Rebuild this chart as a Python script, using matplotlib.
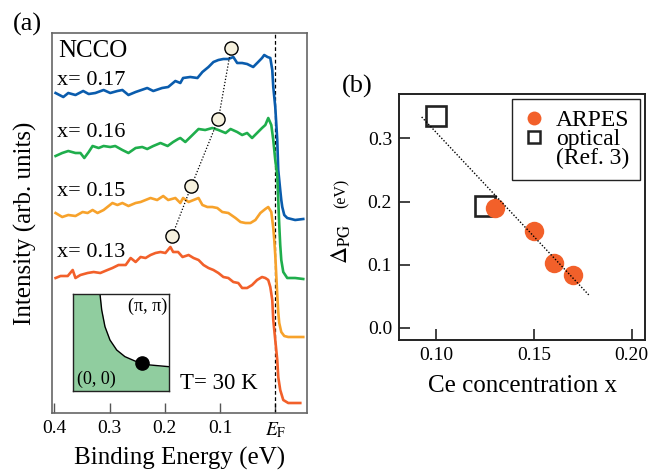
import matplotlib
matplotlib.use('Agg')
import matplotlib.pyplot as plt
from matplotlib.lines import Line2D

plt.rcParams['font.family'] = ['Liberation Serif', 'DejaVu Serif']
plt.rcParams['mathtext.fontset'] = 'stix'

# ---------------- data: panel (a) spectra ----------------
E_blue = [0.398, 0.384, 0.375, 0.362, 0.348, 0.338, 0.326, 0.311, 0.299, 0.286, 0.277, 0.266, 0.253,
          0.232, 0.221, 0.205, 0.194, 0.181, 0.172, 0.167, 0.154, 0.141, 0.132, 0.121, 0.112, 0.103,
          0.094, 0.085, 0.076, 0.069, 0.060, 0.051, 0.040, 0.031, 0.024, 0.020, 0.014, 0.009, 0.0054,
          0.0036, 0.0, -0.0036, -0.0054, -0.009, -0.0109, -0.0127, -0.0163, -0.0217, -0.036, -0.0507]
I_blue = [320, 316, 320, 318, 322, 319, 320, 323, 320, 322, 323, 318, 321, 325, 322, 325, 326, 332, 330,
          335, 336, 335, 341, 346, 351, 353, 354, 354, 356, 350, 350, 349, 346, 351, 355, 358, 356, 355,
          343, 326, 306, 273, 243, 223, 213, 206, 198, 195, 193, 194]

E_green = [0.398, 0.386, 0.375, 0.362, 0.353, 0.346, 0.338, 0.331, 0.320, 0.311, 0.299, 0.290, 0.277,
           0.266, 0.253, 0.241, 0.232, 0.221, 0.208, 0.195, 0.185, 0.176, 0.172, 0.163, 0.150, 0.139,
           0.127, 0.114, 0.103, 0.090, 0.081, 0.069, 0.060, 0.051, 0.042, 0.033, 0.024, 0.018, 0.0127,
           0.0072, 0.0036, 0.0, -0.0036, -0.0054, -0.0072, -0.009, -0.0109, -0.0145, -0.0217, -0.036, -0.0507]
I_green = [257, 260, 262, 260, 260, 255, 261, 267, 265, 267, 266, 267, 263, 260, 265, 266, 264, 267, 270,
           267, 271, 274, 275, 271, 278, 284, 283, 285, 283, 280, 284, 281, 278, 280, 275, 280, 285, 288,
           295, 288, 273, 253, 238, 213, 188, 168, 153, 141, 135, 135, 134]

E_orange = [0.398, 0.386, 0.375, 0.362, 0.349, 0.340, 0.331, 0.322, 0.311, 0.295, 0.286, 0.277, 0.266,
            0.253, 0.244, 0.235, 0.226, 0.214, 0.203, 0.194, 0.181, 0.172, 0.167, 0.157, 0.148, 0.139,
            0.132, 0.123, 0.114, 0.105, 0.096, 0.085, 0.072, 0.063, 0.054, 0.045, 0.036, 0.027, 0.018,
            0.0127, 0.0072, 0.0036, 0.0018, 0.0, -0.0018, -0.0036, -0.0054, -0.0072, -0.0109, -0.0163,
            -0.0235, -0.0507]
I_orange = [200, 196, 198, 197, 201, 200, 203, 200, 203, 210, 208, 210, 207, 210, 211, 213, 215, 213, 217,
            213, 215, 210, 215, 211, 213, 215, 208, 206, 206, 205, 201, 200, 195, 191, 190, 190, 193, 200,
            204, 206, 201, 185, 173, 158, 138, 118, 101, 90, 81, 77, 76, 76]

E_red = [0.398, 0.389, 0.376, 0.367, 0.362, 0.353, 0.340, 0.329, 0.317, 0.304, 0.295, 0.284, 0.271,
         0.262, 0.253, 0.244, 0.235, 0.226, 0.217, 0.208, 0.199, 0.190, 0.185, 0.176, 0.168, 0.157,
         0.148, 0.139, 0.130, 0.121, 0.112, 0.103, 0.094, 0.085, 0.076, 0.067, 0.060, 0.051, 0.042,
         0.033, 0.024, 0.018, 0.0127, 0.009, 0.0054, 0.0036, 0.0, -0.0036, -0.0054, -0.009, -0.0145,
         -0.0235, -0.0453]
I_red = [135, 137, 137, 143, 135, 138, 140, 141, 140, 143, 145, 148, 148, 155, 151, 156, 155, 158, 160,
         161, 160, 166, 161, 161, 156, 158, 155, 153, 148, 145, 143, 140, 136, 135, 131, 130, 125, 125,
         128, 133, 136, 135, 133, 126, 113, 93, 73, 53, 36, 23, 13, 10, 10]

spectra_labels = ['x= 0.17', 'x= 0.16', 'x= 0.15', 'x= 0.13']
spectra_colors = ['#0a5cad', '#1fae4c', '#f7a22b', '#f2602a']

# peak (pseudogap) positions marked on the spectra
E_peak = [0.080, 0.103, 0.152, 0.187]
I_peak = [365, 294, 227, 177]

# inset: Fermi surface contour (fraction of the quadrant)
fs_u = [0.278, 0.296, 0.330, 0.382, 0.452, 0.538, 0.642, 0.799, 1.0]
fs_v = [1.0, 0.834, 0.662, 0.524, 0.421, 0.352, 0.307, 0.266, 0.248]
dot_u = [0.712]
dot_v = [0.290]

# ---------------- data: panel (b) ----------------
x_arpes = [0.13, 0.15, 0.16, 0.17]
d_arpes = [0.190, 0.154, 0.103, 0.084]
x_opt = [0.10, 0.125]
d_opt = [0.335, 0.193]
fit_x = [0.0925, 0.178]
fit_y = [0.334, 0.052]

W, H = 651, 472
fig = plt.figure(figsize=(W / 100, H / 100), dpi=100)

# ---------------- panel (a) ----------------
axa = fig.add_axes([52 / W, 59 / H, 255 / W, 380 / H])
axa.set_xlim(0.4045, -0.0575)
axa.set_ylim(0, 380)
for E, I, c in zip([E_blue, E_green, E_orange, E_red], [I_blue, I_green, I_orange, I_red], spectra_colors):
    axa.plot(E, I, color=c, lw=1.9, solid_joinstyle='round', zorder=3)
axa.axvline(0.0, color='black', lw=0.9, ls=(0, (3, 2)), zorder=2)
axa.plot(E_peak, I_peak, color='black', lw=0.9, ls=(0, (1, 1.5)), zorder=4)
axa.plot(E_peak, I_peak, 'o', ms=9.5, mfc='#f6f1de', mec='black', mew=1.0, ls='none', zorder=5)

axa.set_xticks([0.4, 0.3, 0.2, 0.1, 0.0])
axa.set_xticklabels(['0.4', '0.3', '0.2', '0.1', r'$E_{\mathrm{F}}$'])
axa.set_yticks([])
axa.tick_params(axis='x', direction='in', length=7, width=1.0, color='#555555', labelsize=14, pad=5)
for s in axa.spines.values():
    s.set_color('#666666')
    s.set_linewidth(1.2)
axa.set_xlabel('Binding Energy (eV)', fontsize=18, labelpad=5)
axa.set_ylabel('Intensity (arb. units)', fontsize=18, labelpad=11)

axa.text(0.0235, 0.937, 'NCCO', transform=axa.transAxes, fontsize=18, va='baseline', ha='left')
label_y = [0.863, 0.726, 0.571, 0.411]
for lab, yy in zip(spectra_labels, label_y):
    axa.text(0.0196, yy, lab, transform=axa.transAxes, fontsize=16, va='baseline', ha='left')
axa.text(0.502, 0.063, 'T= 30 K', transform=axa.transAxes, fontsize=16.5, va='baseline', ha='left')

# inset
axi = fig.add_axes([73.3 / W, (H - 390.7) / H, 96 / W, 96.7 / H])
axi.set_xlim(0, 1)
axi.set_ylim(0, 1)
axi.set_facecolor('#90cd9f')
axi.fill_between(fs_u, fs_v, 1.0, color='white', lw=0)
axi.plot(fs_u, fs_v, color='black', lw=1.0)
axi.plot(dot_u, dot_v, 'o', color='black', ms=9.5)
axi.set_xticks([])
axi.set_yticks([])
for s in axi.spines.values():
    s.set_linewidth(1.0)
    s.set_color('#222222')
axi.text(0.975, 0.82, '(π, π)', transform=axi.transAxes, fontsize=13, ha='right', va='baseline')
axi.text(0.035, 0.075, '(0, 0)', transform=axi.transAxes, fontsize=13, ha='left', va='baseline')

fig.text(27 / W, 1 - 24 / H, '(a)', fontsize=19, ha='center', va='center')

# ---------------- panel (b) ----------------
axb = fig.add_axes([399 / W, (H - 340) / H, 246 / W, 246 / H])
axb.set_xlim(0.0809, 0.2068)
axb.set_ylim(-0.0195, 0.3704)
axb.plot(x_opt, d_opt, 's', ms=14.5, mfc='none', mec='#222222', mew=1.9, ls='none', zorder=3)
axb.plot(x_arpes, d_arpes, 'o', ms=14, color='#f2602a', mec='none', ls='none', zorder=4)
axb.plot(fit_x, fit_y, color='black', lw=1.0, ls=(0, (1, 1.3)), zorder=5)

axb.set_xticks([0.10, 0.15, 0.20])
axb.set_xticklabels(['0.10', '0.15', '0.20'])
axb.set_yticks([0.0, 0.1, 0.2, 0.3])
axb.set_yticklabels(['0.0', '0.1', '0.2', '0.3'])
axb.tick_params(direction='in', length=8, width=1.2, labelsize=14, pad=5, color='#222222')
for s in axb.spines.values():
    s.set_linewidth(1.4)
    s.set_color('#222222')
axb.set_xlabel('Ce concentration x', fontsize=18, labelpad=8)

fig.text(341 / W, 1 - 244 / H, r'$\Delta_{\mathrm{PG}}$', rotation=90, fontsize=17, ha='center', va='center')
fig.text(342 / W, 1 - 193 / H, '(eV)', rotation=90, fontsize=11.5, ha='center', va='center')

handles = [Line2D([], [], marker='o', ls='none', ms=10, color='#f2602a', mec='none'),
           Line2D([], [], marker='s', ls='none', ms=9, mfc='none', mec='#222222', mew=1.8),
           Line2D([], [], ls='none')]
leg = axb.legend(handles, ['ARPES', 'optical', '(Ref. 3)'], loc='upper right', fontsize=17,
                 frameon=True, fancybox=False, framealpha=1, edgecolor='#222222',
                 handlelength=0.9, handletextpad=0.5, borderpad=0.45, labelspacing=-0.1,
                 borderaxespad=0.2)
leg.get_frame().set_linewidth(1.0)

fig.text(357 / W, 1 - 86 / H, '(b)', fontsize=19, ha='center', va='center')

fig.savefig('out.png', dpi=100)
